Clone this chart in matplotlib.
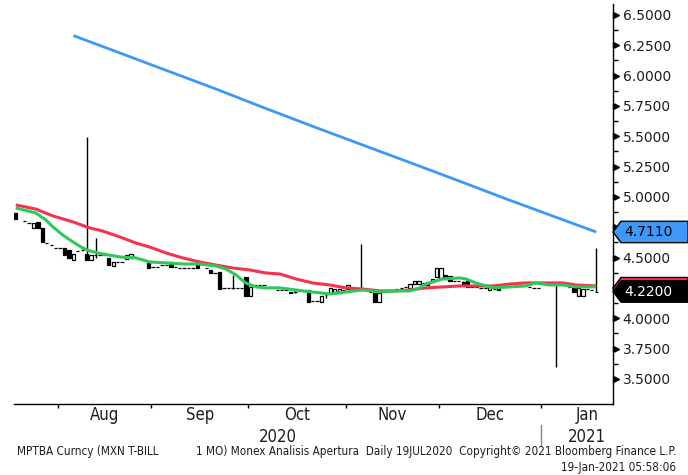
"""Bloomberg-style MPTBA candle chart with moving averages, redrawn with matplotlib."""
import numpy as np
import pandas as pd
import matplotlib
matplotlib.use('Agg')
import matplotlib.pyplot as plt
from matplotlib.patches import Polygon
from matplotlib.transforms import offset_copy

# trading days 19JUL2020 .. 19JAN2021 (index = position on the x axis)
days = pd.bdate_range('2020-07-20', '2021-01-19')

# daily candles: trading-day index, open, high, low, close
candle_day = [0, 2, 3, 4, 5, 6, 7, 8, 9, 10, 11, 12, 13, 14, 15, 16, 17, 18, 19, 20,
              21, 22, 23, 24, 25, 26, 30, 31, 32, 33, 34, 35, 36, 37, 38, 39, 40, 41,
              43, 44, 45, 46, 47, 48, 49, 50, 51, 52, 53, 54, 55, 56, 58, 59, 60, 61,
              62, 63, 64, 65, 66, 67, 68, 69, 70, 71, 72, 73, 74, 75, 76, 78, 79, 80,
              81, 82, 84, 85, 86, 87, 88, 89, 90, 91, 92, 93, 94, 95, 96, 97, 98, 99,
              100, 101, 102, 103, 104, 105, 106, 107, 108, 109, 116, 117, 118, 122,
              125, 126, 127, 128, 129, 130, 131]
candle_open = [4.87, 4.80, 4.785, 4.74, 4.79, 4.74, 4.62, 4.60, 4.58, 4.58, 4.58, 4.56,
               4.48, 4.55, 4.56, 4.53, 4.48, 4.52, 4.52, 4.52, 4.50, 4.43, 4.46, 4.46,
               4.49, 4.50, 4.455, 4.42, 4.42, 4.44, 4.44, 4.46, 4.42, 4.41, 4.41, 4.41,
               4.41, 4.46, 4.41, 4.40, 4.37, 4.38, 4.25, 4.25, 4.25, 4.25, 4.25, 4.34,
               4.18, 4.27, 4.27, 4.27, 4.26, 4.23, 4.23, 4.23, 4.21, 4.22, 4.225, 4.225,
               4.23, 4.14, 4.14, 4.13, 4.20, 4.21, 4.21, 4.21, 4.23, 4.24, 4.235, 4.235,
               4.24, 4.22, 4.21, 4.13, 4.23, 4.23, 4.24, 4.25, 4.26, 4.25, 4.28, 4.28,
               4.29, 4.27, 4.30, 4.34, 4.33, 4.36, 4.35, 4.31, 4.31, 4.30, 4.31, 4.26,
               4.26, 4.25, 4.25, 4.23, 4.24, 4.26, 4.26, 4.25, 4.25, 4.28, 4.26, 4.25,
               4.18, 4.18, 4.24, 4.23, 4.22]
candle_high = [4.87, 4.80, 4.785, 4.785, 4.79, 4.74, 4.62, 4.60, 4.58, 4.58, 4.58, 4.56,
               4.53, 4.55, 4.56, 5.49, 4.52, 4.66, 4.52, 4.52, 4.50, 4.46, 4.46, 4.46,
               4.52, 4.53, 4.455, 4.42, 4.42, 4.44, 4.44, 4.46, 4.42, 4.41, 4.41, 4.41,
               4.41, 4.46, 4.41, 4.40, 4.37, 4.38, 4.25, 4.25, 4.36, 4.25, 4.25, 4.34,
               4.26, 4.27, 4.27, 4.27, 4.26, 4.23, 4.23, 4.23, 4.22, 4.23, 4.225, 4.225,
               4.23, 4.14, 4.14, 4.18, 4.22, 4.25, 4.24, 4.24, 4.23, 4.27, 4.235, 4.61,
               4.24, 4.22, 4.21, 4.21, 4.23, 4.23, 4.24, 4.25, 4.26, 4.28, 4.31, 4.31,
               4.29, 4.30, 4.32, 4.41, 4.41, 4.36, 4.35, 4.31, 4.31, 4.31, 4.31, 4.26,
               4.26, 4.25, 4.25, 4.26, 4.24, 4.26, 4.26, 4.25, 4.25, 4.30, 4.26, 4.25,
               4.25, 4.24, 4.24, 4.23, 4.58]
candle_low = [4.82, 4.80, 4.785, 4.74, 4.74, 4.63, 4.62, 4.60, 4.58, 4.58, 4.52, 4.50,
              4.48, 4.55, 4.56, 4.48, 4.48, 4.50, 4.52, 4.52, 4.44, 4.43, 4.46, 4.46,
              4.49, 4.50, 4.41, 4.42, 4.42, 4.44, 4.44, 4.42, 4.42, 4.41, 4.41, 4.41,
              4.41, 4.41, 4.41, 4.37, 4.37, 4.24, 4.25, 4.25, 4.24, 4.25, 4.25, 4.18,
              4.18, 4.27, 4.27, 4.27, 4.26, 4.23, 4.23, 4.23, 4.21, 4.21, 4.225, 4.225,
              4.13, 4.14, 4.14, 4.13, 4.17, 4.21, 4.21, 4.21, 4.23, 4.24, 4.235, 4.23,
              4.24, 4.22, 4.13, 4.13, 4.23, 4.23, 4.24, 4.25, 4.26, 4.25, 4.28, 4.28,
              4.29, 4.27, 4.30, 4.34, 4.33, 4.32, 4.31, 4.31, 4.31, 4.27, 4.26, 4.26,
              4.26, 4.25, 4.25, 4.23, 4.24, 4.23, 4.26, 4.25, 4.25, 3.60, 4.26, 4.22,
              4.18, 4.18, 4.24, 4.23, 4.22]
candle_close = [4.82, 4.80, 4.785, 4.785, 4.74, 4.63, 4.62, 4.60, 4.58, 4.58, 4.52, 4.50,
                4.53, 4.55, 4.56, 4.48, 4.52, 4.52, 4.52, 4.52, 4.44, 4.46, 4.46, 4.46,
                4.52, 4.53, 4.41, 4.42, 4.42, 4.44, 4.44, 4.42, 4.42, 4.41, 4.41, 4.41,
                4.41, 4.41, 4.41, 4.37, 4.37, 4.24, 4.25, 4.25, 4.25, 4.25, 4.25, 4.18,
                4.26, 4.27, 4.27, 4.27, 4.26, 4.23, 4.23, 4.23, 4.22, 4.22, 4.225, 4.225,
                4.13, 4.14, 4.14, 4.18, 4.20, 4.25, 4.24, 4.24, 4.23, 4.27, 4.235, 4.235,
                4.24, 4.22, 4.13, 4.21, 4.23, 4.23, 4.24, 4.25, 4.26, 4.28, 4.31, 4.31,
                4.29, 4.30, 4.32, 4.41, 4.41, 4.32, 4.31, 4.31, 4.31, 4.28, 4.26, 4.26,
                4.26, 4.25, 4.25, 4.26, 4.24, 4.23, 4.26, 4.25, 4.25, 4.28, 4.26, 4.22,
                4.25, 4.24, 4.24, 4.23, 4.22]

red_day = [0, 4.5, 8.4, 12.9, 16.7, 19.6, 23.5, 27.1, 30.2, 33.9, 37.7, 41.5, 45.1,
           49, 52.8, 56.4, 59.6, 63.2, 67, 70.9, 74.5, 78.3, 82.2, 85.8, 88.9, 92.6,
           96.4, 100.2, 107.7, 111.5, 115.1, 123.5, 126.4, 131]
red_val = [4.934, 4.90, 4.843, 4.794, 4.744, 4.719, 4.670, 4.62, 4.587, 4.538, 4.497,
           4.464, 4.439, 4.414, 4.398, 4.373, 4.365, 4.324, 4.291, 4.274, 4.25, 4.241,
           4.225, 4.225, 4.233, 4.25, 4.258, 4.266, 4.266, 4.282, 4.291, 4.291, 4.274,
           4.266]
green_day = [0, 4.5, 6.8, 8.4, 10.6, 12.9, 15.1, 16.7, 19.6, 23.5, 27.1, 30.2, 33.9,
             37.7, 41.5, 45.1, 47.4, 49.7, 51.9, 54.2, 56.4, 59.6, 63.2, 67, 70.9, 74.5,
             78.3, 82.2, 85.8, 88.9, 91.2, 92.6, 94.1, 96.4, 100.2, 101.6, 103.8, 107.7,
             111.5, 115.1, 117.4, 120.5, 123.5, 126.4, 131]
green_val = [4.909, 4.868, 4.81, 4.752, 4.686, 4.629, 4.579, 4.554, 4.530, 4.505, 4.497,
             4.464, 4.456, 4.447, 4.447, 4.431, 4.406, 4.357, 4.291, 4.258, 4.25, 4.25,
             4.233, 4.216, 4.20, 4.216, 4.233, 4.216, 4.225, 4.225, 4.25, 4.282, 4.299,
             4.324, 4.332, 4.324, 4.291, 4.25, 4.258, 4.266, 4.291, 4.274, 4.274, 4.258,
             4.258]
blue_day = [13, 22, 33, 45, 56, 67, 78, 87, 99, 110, 121, 131]
blue_val = [6.33, 6.207, 6.056, 5.892, 5.735, 5.582, 5.432, 5.310, 5.146, 4.993, 4.845,
            4.711]

y_ticks = np.arange(3.5, 6.5001, 0.25)
months = ['Aug', 'Sep', 'Oct', 'Nov', 'Dec', 'Jan']
month_starts = ['2020-08-01', '2020-09-01', '2020-10-01', '2020-11-01', '2020-12-01',
                '2021-01-01']
footer_left = 'MPTBA Curncy (MXN T-BILL'
footer_mid = ('1 MO) Monex Analisis Apertura  Daily 19JUL2020  '
              'Copyright\u00a9 2021 Bloomberg Finance L.P.')
footer_time = '19-Jan-2021 05:58:06'

RED = '#f5334f'
GREEN = '#2dc85a'
BLUE = '#3d98f7'
TXT = '#1e1e1e'
FONT = 'DejaVu Sans'

fig = plt.figure(figsize=(6.88, 4.75), dpi=100)
ax = fig.add_axes([14 / 688, 71 / 475, 599 / 688, 400 / 475])
ax.set_xlim(-0.4, 134.8)
ax.set_ylim(3.293, 6.59)

# candles: wick + body, hollow when close >= open
o = np.array(candle_open)
c = np.array(candle_close)
ax.vlines(candle_day, candle_low, candle_high, color='black', linewidth=1.0, zorder=2)
up = c >= o
ax.bar(np.array(candle_day)[up], (c - o)[up], bottom=o[up], width=0.75,
       facecolor='white', edgecolor='black', linewidth=0.9, zorder=3)
ax.bar(np.array(candle_day)[~up], (o - c)[~up], bottom=c[~up], width=0.75,
       facecolor='black', edgecolor='black', linewidth=0.9, zorder=3)

ax.plot(red_day, red_val, color=RED, linewidth=2.2, zorder=4, solid_capstyle='butt')
ax.plot(green_day, green_val, color=GREEN, linewidth=2.2, zorder=5, solid_capstyle='butt')
ax.plot(blue_day, blue_val, color=BLUE, linewidth=2.0, zorder=5, solid_capstyle='butt')

# spines
for side in ('top', 'left'):
    ax.spines[side].set_visible(False)
for side in ('bottom', 'right'):
    ax.spines[side].set_linewidth(1.0)
    ax.spines[side].set_color('black')

# last-value tags hide the 4.7500 / 4.2500 labels in the original
blue_last = blue_val[-1]
last_close = candle_close[-1]
hidden = [v for v in y_ticks if abs(v - blue_last) < 0.1 or abs(v - last_close) < 0.1]

# right price axis with Bloomberg wedge ticks
ax.yaxis.tick_right()
ax.set_yticks(y_ticks)
ax.set_yticklabels(['' if v in hidden else f'{v:.4f}' for v in y_ticks], fontsize=10,
                   color=TXT, family=FONT)
ax.set_yticks(y_ticks[:-1] + 0.125, minor=True)
ax.tick_params(axis='y', which='major', length=0, pad=7)
ax.tick_params(axis='y', which='minor', length=3.5, width=1, color='black',
               direction='out')
wedge_tr = offset_copy(ax.get_yaxis_transform(), fig=fig, x=2.2, units='points')
ax.plot(np.ones_like(y_ticks), y_ticks, linestyle='none', marker='>', markersize=5,
        color='black', transform=wedge_tr, clip_on=False, zorder=6)

# month axis: boundary ticks, labels centred on each month
starts = [int(np.searchsorted(days, pd.Timestamp(s))) - 0.5 for s in month_starts]
centers = []
for s, pos in zip(month_starts, starts):
    full = pd.bdate_range(s, pd.Timestamp(s) + pd.offsets.MonthEnd(0))
    centers.append(pos + len(full) / 2)
ax.set_xticks(starts)
ax.set_xticklabels([])
ax.set_xticks(centers, minor=True)
ax.set_xticklabels(months, minor=True, fontsize=12, color=TXT, family=FONT,
                   fontstretch='condensed')
ax.tick_params(axis='x', which='major', length=3, width=1, color='black',
               direction='out')
ax.tick_params(axis='x', which='minor', length=0, pad=1.5)

xtr = ax.get_xaxis_transform()
ax.text((0 + starts[-1]) / 2, -0.082, '2020', transform=xtr, ha='center', va='center',
        fontsize=12, color=TXT, family=FONT, fontstretch='condensed')
ax.text(centers[-1], -0.082, '2021', transform=xtr, ha='center', va='center',
        fontsize=12, color=TXT, family=FONT, fontstretch='condensed')
ax.plot([starts[-1], starts[-1]], [-0.053, -0.105], color='#888888', linewidth=1,
        transform=xtr, clip_on=False)

# last-value tags on the price axis
ytr = ax.get_yaxis_transform()
box_w, tip_w, half_h = 75 / 599, 8 / 599, 0.088


def value_tag(value, face, text_color, text=None):
    pts = [(1.0, value), (1.0 + tip_w, value + half_h), (1.0 + box_w, value + half_h),
           (1.0 + box_w, value - half_h), (1.0 + tip_w, value - half_h)]
    ax.add_patch(Polygon(pts, closed=True, facecolor=face, edgecolor='black',
                         linewidth=1, transform=ytr, clip_on=False, zorder=7))
    if text:
        ax.text(1.0 + 11 / 599, value, text, transform=ytr, ha='left', va='center',
                fontsize=10, color=text_color, family=FONT, zorder=8, clip_on=False)


value_tag(blue_last, BLUE, 'black', f'{blue_last:.4f}')
value_tag(last_close + 0.028, RED, 'black')
value_tag(last_close, 'black', 'white', f'{last_close:.4f}')

# footer
foot = dict(fontsize=8.4, color=TXT, family=FONT, fontstretch='condensed', va='center')
fig.text(17 / 688, 1 - 452 / 475, footer_left, ha='left', **foot)
fig.text(676 / 688, 1 - 452 / 475, footer_mid, ha='right', **foot)
fig.text(676 / 688, 1 - 467 / 475, footer_time, ha='right', **foot)

fig.savefig('out.png', dpi=100, facecolor='white')
plt.close(fig)
